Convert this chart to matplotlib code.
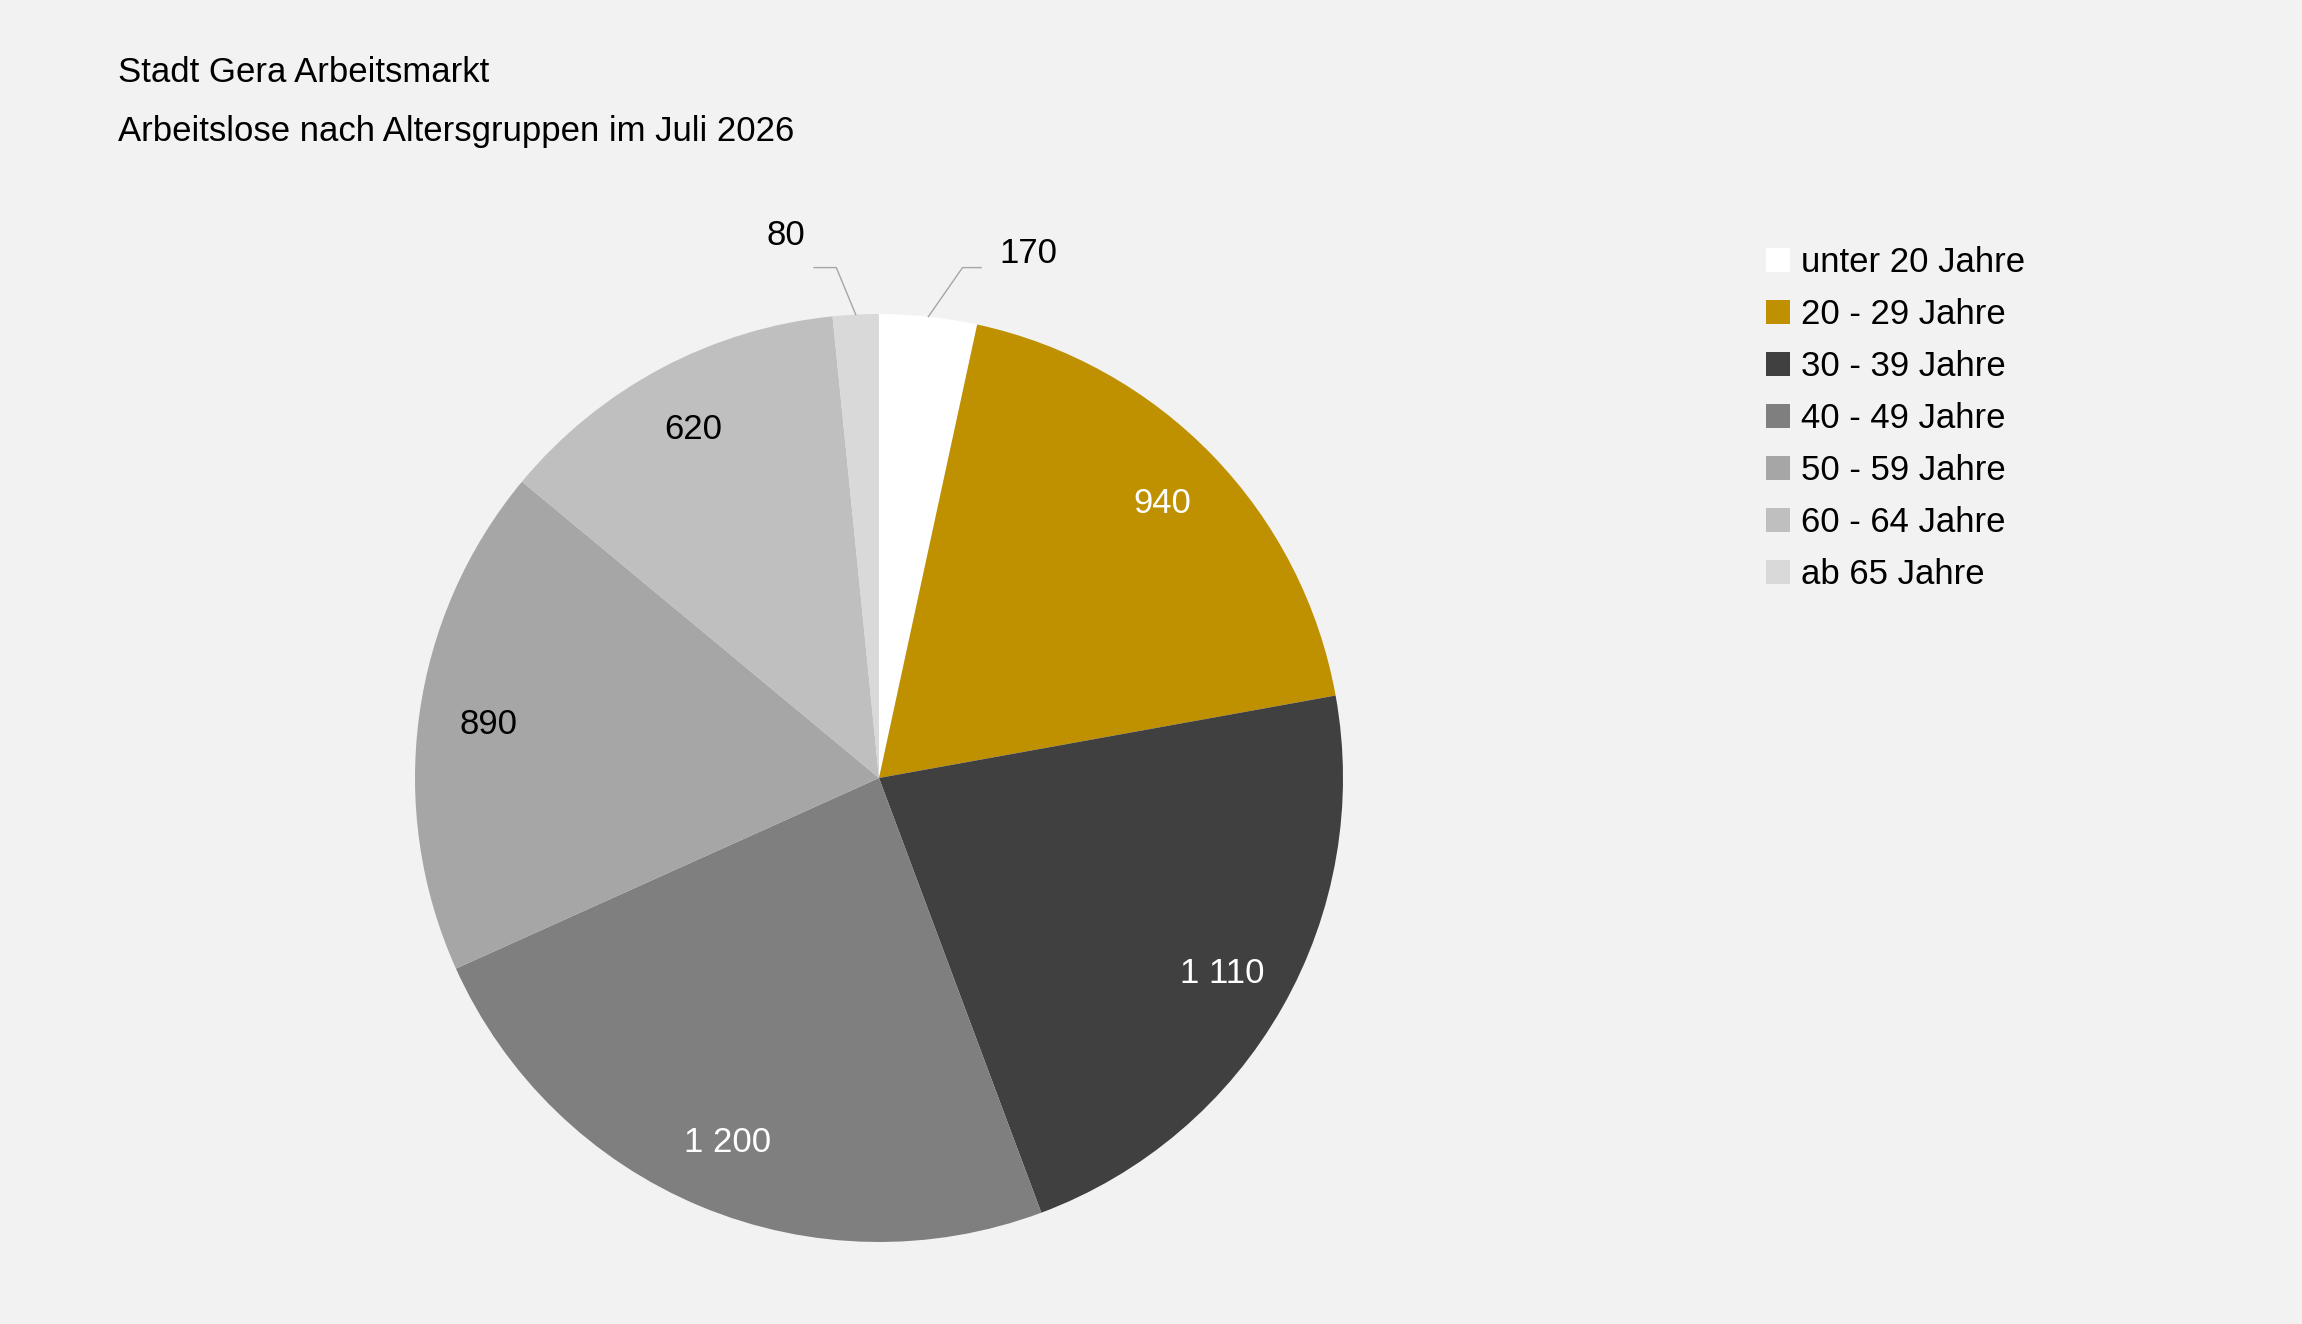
import numpy as np
import matplotlib
matplotlib.use("Agg")
import matplotlib.pyplot as plt
from matplotlib.patches import Patch

plt.rcParams['font.family'] = ['Liberation Sans', 'DejaVu Sans']

categories = ["unter 20 Jahre", "20 - 29 Jahre", "30 - 39 Jahre", "40 - 49 Jahre",
              "50 - 59 Jahre", "60 - 64 Jahre", "ab 65 Jahre"]
values = [170, 940, 1110, 1200, 890, 620, 80]
value_labels = ["170", "940", "1 110", "1 200", "890", "620", "80"]
colors = ["#FFFFFF", "#BF9000", "#404040", "#7F7F7F", "#A6A6A6", "#BFBFBF", "#D9D9D9"]
text_colors = ["black", "white", "white", "white", "black", "black", "black"]

W, H = 2302, 1324
fig = plt.figure(figsize=(W/100, H/100), dpi=100, facecolor="#F2F2F2")
cx, cy, r = 879, 778, 464
ax = fig.add_axes([(cx-r)/W, (H-cy-r)/H, 2*r/W, 2*r/H])
ax.set_facecolor("#F2F2F2")
wedges, _ = ax.pie(values, colors=colors, startangle=90, counterclock=False,
                   wedgeprops=dict(linewidth=0))
ax.set_xlim(-1, 1); ax.set_ylim(-1, 1)
ax.set_aspect('auto')
ax.axis('off')

total = sum(values)
for i, (w, lab) in enumerate(zip(wedges, value_labels)):
    mid = np.deg2rad((w.theta1 + w.theta2) / 2)
    if i in (0, 6):
        ex, ey = np.cos(mid), np.sin(mid)
        if i == 0:
            elb, end, tx, ha = (0.18, 1.10), (0.22, 1.10), 0.26, 'left'
            ty = 1.13
        else:
            elb, end, tx, ha = (-0.092, 1.10), (-0.14, 1.10), -0.2, 'center'
            ty = 1.17
        ax.plot([ex, elb[0], end[0]], [ey, elb[1], end[1]], color="#A6A6A6", lw=1, clip_on=False)
        ax.text(tx, ty, lab, ha=ha, va='center', fontsize=25, color='black', clip_on=False)
    else:
        rr = 0.85
        ax.text(rr*np.cos(mid), rr*np.sin(mid), lab, ha='center', va='center',
                fontsize=25, color=text_colors[i])

fig.text(118/W, 1-72/H, "Stadt Gera Arbeitsmarkt", fontsize=25, va='center', ha='left')
fig.text(118/W, 1-132/H, "Arbeitslose nach Altersgruppen im Juli 2026", fontsize=25, va='center', ha='left')

handles = [Patch(facecolor=c, edgecolor='none') for c in colors]
leg = fig.legend(handles, categories, loc='upper left', bbox_to_anchor=(1752/W, 1-232/H),
                 frameon=False, fontsize=25, handlelength=0.7, handleheight=0.7,
                 handletextpad=0.3, labelspacing=0.55, borderaxespad=0)
fig.savefig("out.png", dpi=100, facecolor=fig.get_facecolor())
